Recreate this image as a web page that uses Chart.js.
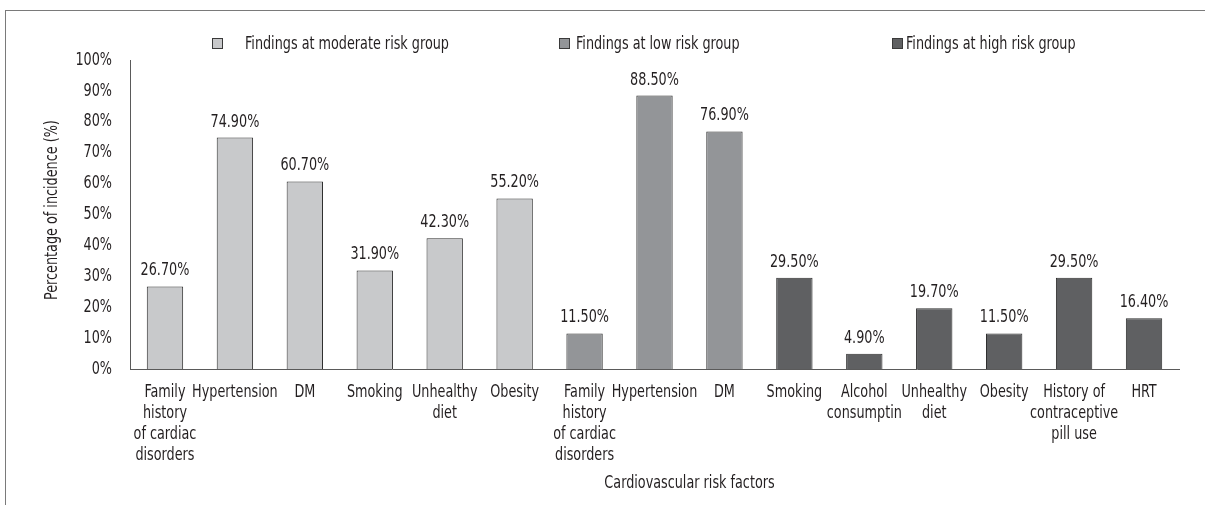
<!DOCTYPE html>
<html>
<head>
<meta charset="utf-8">
<title>Cardiovascular risk factors</title>
<script src="https://cdn.jsdelivr.net/npm/chart.js@4.4.1/dist/chart.umd.min.js"></script>
<style>
  html, body { margin: 0; padding: 0; background: #fff; }
  #wrap { position: relative; width: 1205px; height: 505px; overflow: hidden; }
  #frame {
    position: absolute; left: 5px; top: 10px; right: -2px; bottom: -2px;
    border-top: 1px solid #7a7a7a; border-left: 1px solid #7a7a7a;
  }
  #riskChart { position: absolute; left: 0; top: 0; }
  .legend-box {
    position: absolute; width: 9px; height: 9px; border: 1px solid #3a3a3a;
  }
  .legend-text {
    position: absolute; white-space: nowrap; color: #231f20;
    font-family: 'DejaVu Sans Condensed', 'DejaVu Sans', sans-serif;
    font-size: 18px; line-height: 20px;
    transform: scaleX(0.79); transform-origin: 0 50%;
  }
</style>
</head>
<body>
<div id="wrap">
  <div id="frame"></div>
  <canvas id="riskChart" width="1205" height="505"></canvas>
  <div id="legend"></div>
</div>
<script>
// =================== data ===================

const categories = [
  ['Family', 'history', 'of cardiac', 'disorders'],
  'Hypertension',
  'DM',
  'Smoking',
  ['Unhealthy', 'diet'],
  'Obesity',
  ['Family', 'history', 'of cardiac', 'disorders'],
  'Hypertension',
  'DM',
  'Smoking',
  ['Alcohol', 'consumptin'],
  ['Unhealthy', 'diet'],
  'Obesity',
  ['History of', 'contraceptive', 'pill use'],
  'HRT'
];

const seriesNames = [
  'Findings at moderate risk group',
  'Findings at low risk group',
  'Findings at high risk group'
];

const moderateRisk = [26.7, 74.9, 60.7, 31.9, 42.3, 55.2, null, null, null, null, null, null, null, null, null];
const lowRisk      = [null, null, null, null, null, null, 11.5, 88.5, 76.9, null, null, null, null, null, null];
const highRisk     = [null, null, null, null, null, null, null, null, null, 29.5, 4.9, 19.7, 11.5, 29.5, 16.4];

const seriesColors = ['#c8c9cb', '#939598', '#5f6062'];

const yTitle = 'Percentage of incidence (%)';
const xTitle = 'Cardiovascular risk factors';

// =================== styling ===================

// the original uses a condensed face; squeeze DejaVu Sans Condensed a little more
const FONT = "18px 'DejaVu Sans Condensed', 'DejaVu Sans', sans-serif";
const SQUEEZE = 0.79;
const TEXT_COLOR = '#231f20';
const AXIS_COLOR = '#5a5a5a';

// legend item placement (box left, text left)
const legendSlots = [
  { box: 212, text: 245 },
  { box: 559, text: 576 },
  { box: 892, text: 906 }
];

// draw a squeezed line of text
function drawText(ctx, text, x, y, align) {
  ctx.save();
  ctx.translate(x, y);
  ctx.scale(SQUEEZE, 1);
  ctx.textAlign = align;
  ctx.fillText(text, 0, 0);
  ctx.restore();
}

// Value labels above every bar
const barValueLabels = {
  id: 'barValueLabels',
  afterDatasetsDraw(chart) {
    const ctx = chart.ctx;
    ctx.save();
    ctx.font = FONT;
    ctx.fillStyle = TEXT_COLOR;
    ctx.textBaseline = 'alphabetic';
    chart.data.datasets.forEach((ds, i) => {
      const meta = chart.getDatasetMeta(i);
      meta.data.forEach((bar, j) => {
        const v = ds.data[j];
        if (v === null || v === undefined) return;
        drawText(ctx, v.toFixed(2) + '%', bar.x, bar.y - 11, 'center');
      });
    });
    ctx.restore();
  }
};

// Tick labels and axis titles, placed from the chart's own scales
const axisText = {
  id: 'axisText',
  afterDraw(chart) {
    const { ctx, chartArea } = chart;
    const xScale = chart.scales.x;
    const yScale = chart.scales.y;
    ctx.save();
    ctx.font = FONT;
    ctx.fillStyle = TEXT_COLOR;
    ctx.textBaseline = 'middle';

    // y ticks
    yScale.ticks.forEach((t) => {
      drawText(ctx, t.value + '%', yScale.right - 18, yScale.getPixelForValue(t.value), 'right');
    });

    // x ticks (multi-line)
    xScale.ticks.forEach((t, i) => {
      const lines = [].concat(categories[i]);
      const x = xScale.getPixelForTick(i);
      lines.forEach((line, k) => {
        drawText(ctx, line, x, chartArea.bottom + 23 + k * 21, 'center');
      });
    });

    // x title (sits right of centre in the original)
    drawText(ctx, xTitle, (chartArea.left + chartArea.right) / 2 + 35, 483, 'center');

    // y title
    ctx.translate(52, 300);
    ctx.rotate(-Math.PI / 2);
    drawText(ctx, yTitle, 0, 0, 'left');
    ctx.restore();
  }
};

function makeDataset(label, values, color) {
  return {
    label: label,
    data: values,
    backgroundColor: color,
    borderColor: '#2e2e2e',
    borderWidth: 1,
    grouped: false,
    categoryPercentage: 1,
    barPercentage: 0.52
  };
}

function buildLegend(chart) {
  const legend = document.getElementById('legend');
  chart.data.datasets.forEach((ds, i) => {
    const slot = legendSlots[i];
    const box = document.createElement('div');
    box.className = 'legend-box';
    box.style.left = slot.box + 'px';
    box.style.top = '38px';
    box.style.background = ds.backgroundColor;
    const txt = document.createElement('div');
    txt.className = 'legend-text';
    txt.style.left = slot.text + 'px';
    txt.style.top = '33px';
    txt.textContent = ds.label;
    legend.appendChild(box);
    legend.appendChild(txt);
  });
}

const riskChart = new Chart(document.getElementById('riskChart'), {
  type: 'bar',
  data: {
    labels: categories,
    datasets: [
      makeDataset(seriesNames[0], moderateRisk, seriesColors[0]),
      makeDataset(seriesNames[1], lowRisk, seriesColors[1]),
      makeDataset(seriesNames[2], highRisk, seriesColors[2])
    ]
  },
  options: {
    responsive: false,
    animation: false,
    layout: { padding: { top: 60, right: 26, left: 0, bottom: 0 } },
    plugins: {
      legend: { display: false },
      tooltip: { enabled: false }
    },
    scales: {
      x: {
        grid: { display: false, drawTicks: false },
        border: { display: true, color: AXIS_COLOR, width: 1 },
        ticks: { display: false, autoSkip: false },
        afterFit: (scale) => { scale.height = 136; }
      },
      y: {
        min: 0,
        max: 100,
        grid: { display: false, drawTicks: false },
        border: { display: true, color: AXIS_COLOR, width: 1 },
        ticks: { display: false, stepSize: 10 },
        afterFit: (scale) => { scale.width = 130; }
      }
    }
  },
  plugins: [barValueLabels, axisText]
});

buildLegend(riskChart);
</script>
</body>
</html>
